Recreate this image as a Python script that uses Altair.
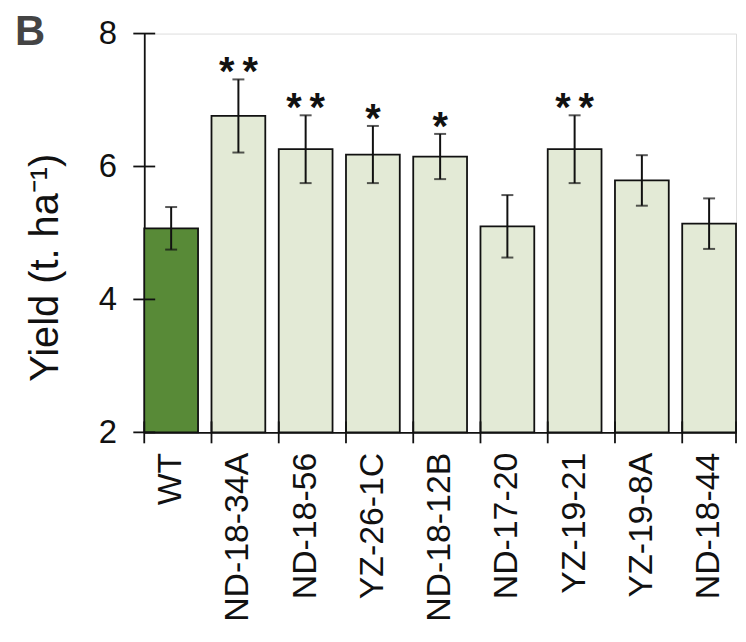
import altair as alt
import pandas as pd

lines = ["WT", "ND-18-34A", "ND-18-56", "YZ-26-1C", "ND-18-12B",
         "ND-17-20", "YZ-19-21", "YZ-19-8A", "ND-18-44"]
means = [5.07, 6.76, 6.26, 6.18, 6.15, 5.10, 6.26, 5.79, 5.14]
errs = [0.32, 0.55, 0.51, 0.43, 0.34, 0.47, 0.51, 0.38, 0.38]
sig = ["", "**", "**", "*", "*", "", "**", "", ""]
kind = ["WT", "transgenic", "transgenic", "transgenic", "transgenic",
        "transgenic", "transgenic", "transgenic", "transgenic"]
y_ticks = [2, 4, 6, 8]
panel_label = ["B"]

df = pd.DataFrame({
    "line": lines,
    "mean": means,
    "lo": [m - e for m, e in zip(means, errs)],
    "hi": [m + e for m, e in zip(means, errs)],
    "sig": ["\u2009".join(s) for s in sig],
    "kind": kind,
    "base": [2] * len(lines),
})
ticks_df = pd.DataFrame({"v": y_ticks})
label_df = pd.DataFrame({"t": panel_label})

W, H = 595, 401
FONT = "Liberation Sans"
INK = "#111"

yscale = alt.Scale(domain=[2, 8], zero=False, nice=False)
xenc = alt.X("line:N", sort=lines,
             scale=alt.Scale(paddingInner=0.2, paddingOuter=0),
             axis=alt.Axis(title=None, labelAngle=-90, labelFontSize=34,
                           labelFont=FONT, labelColor=INK, ticks=False,
                           labelPadding=20, domainColor=INK,
                           domainWidth=1.8))
yenc = alt.Y("mean:Q", scale=yscale,
             axis=alt.Axis(title="Yield (t. ha\u207b\u00b9)", values=y_ticks,
                           format="d", ticks=False, grid=False,
                           labelFontSize=33, labelFont=FONT, labelColor=INK,
                           labelPadding=28, titleFontSize=40,
                           titleFont=FONT, titleFontWeight="normal",
                           titleColor=INK, titlePadding=33,
                           titleY=235, domainColor=INK,
                           domainWidth=1.8))

bars = alt.Chart(df).mark_bar(stroke=INK, strokeWidth=1.8).encode(
    x=xenc,
    y=yenc,
    y2="base:Q",
    color=alt.Color("kind:N",
                    scale=alt.Scale(domain=["WT", "transgenic"],
                                    range=["#588a37", "#e3ead6"]),
                    legend=None),
)

xs = alt.X("line:N", sort=lines)
err_rule = alt.Chart(df).mark_rule(color=INK, strokeWidth=2).encode(
    x=xs, y=alt.Y("lo:Q", scale=yscale), y2="hi:Q",
)
cap_lo = alt.Chart(df).mark_tick(color=INK, size=12, thickness=2).encode(
    x=xs, y=alt.Y("lo:Q", scale=yscale),
)
cap_hi = alt.Chart(df).mark_tick(color=INK, size=12, thickness=2).encode(
    x=xs, y=alt.Y("hi:Q", scale=yscale),
)
stars = alt.Chart(df).mark_text(fontSize=40, fontWeight="bold", font=FONT,
                                color=INK, baseline="alphabetic",
                                dy=6).encode(
    x=xs, y=alt.Y("hi:Q", scale=yscale), text="sig:N",
)

ytick_rules = alt.Chart(ticks_df).mark_rule(color=INK, strokeWidth=1.8).encode(
    y=alt.Y("v:Q", scale=yscale),
    x=alt.value(-11),
    x2=alt.value(11),
)
xtick_rules = alt.Chart(df).mark_rule(color=INK, strokeWidth=1.8).encode(
    x=alt.X("line:N", sort=lines, bandPosition=0),
    y=alt.value(H - 11),
    y2=alt.value(H + 11),
)
xtick_end = alt.Chart(pd.DataFrame({"e": [1]})).mark_rule(
    color=INK, strokeWidth=1.8).encode(
    x=alt.value(W),
    y=alt.value(H - 11),
    y2=alt.value(H + 11),
)
panel = alt.Chart(label_df).mark_text(
    fontSize=42, fontWeight="bold", font=FONT, color="#444",
    align="left", baseline="alphabetic").encode(
    x=alt.value(-130), y=alt.value(12), text="t:N",
)

chart = alt.layer(
    bars, err_rule, cap_lo, cap_hi, stars, ytick_rules, xtick_rules,
    xtick_end, panel
).properties(
    width=W,
    height=H,
    padding={"left": 7, "top": 2, "right": 1, "bottom": 2},
).configure_view(
    stroke=INK, strokeWidth=1.8
).configure(background="white")

chart.save("out.html", embed_options={"renderer": "svg", "actions": False})
